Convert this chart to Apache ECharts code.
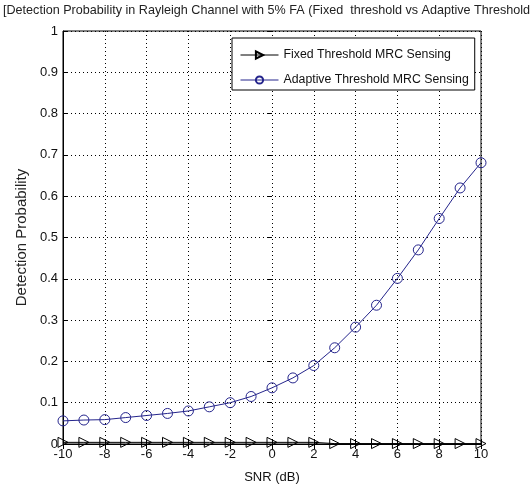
<!DOCTYPE html>
<html>
<head>
<meta charset="utf-8">
<script src="https://cdn.jsdelivr.net/npm/echarts@6/dist/echarts.min.js"></script>
<style>
  html, body { margin: 0; padding: 0; background: #fff; }
  #chart { width: 532px; height: 491px; }
</style>
</head>
<body>
<div id="chart"></div>
<script>
// SNR in dB, one point per dB
const snr = [-10, -9, -8, -7, -6, -5, -4, -3, -2, -1, 0, 1, 2, 3, 4, 5, 6, 7, 8, 9, 10]
// detection probability
const fixedPd = [0.004, 0.004, 0.004, 0.004, 0.004, 0.004, 0.004, 0.004, 0.004, 0.004, 0.004, 0.004, 0.004,
  0.001, 0.001, 0.001, 0.001, 0.001, 0.001, 0.001, 0.001]
const adaptivePd = [0.056, 0.058, 0.059, 0.064, 0.069, 0.074, 0.08, 0.09, 0.1, 0.115, 0.136, 0.16, 0.19,
  0.233, 0.283, 0.336, 0.401, 0.47, 0.546, 0.62, 0.681]
const seriesNames = ['Fixed Threshold MRC Sensing', 'Adaptive Threshold MRC Sensing']

const font = '"Liberation Sans", Arial, sans-serif'
const blue = '#24248c'

const chart = echarts.init(document.getElementById('chart'))
chart.setOption({
  backgroundColor: '#fff',
  animation: false,
  title: {
    text: '[Detection Probability in Rayleigh Channel with 5% FA (Fixed  threshold vs Adaptive Threshold',
    left: 1,
    top: 2,
    padding: [2, 2],
    textStyle: { fontFamily: font, fontSize: 12.6, fontWeight: 'normal', color: '#222' }
  },
  legend: {
    orient: 'vertical',
    left: 232,
    top: 38,
    padding: [11, 6, 4, 8],
    itemGap: 13,
    itemWidth: 38,
    itemHeight: 9,
    backgroundColor: '#fff',
    borderColor: '#000',
    borderWidth: 1,
    borderRadius: 0,
    lineStyle: { width: 1 },
    textStyle: { fontFamily: font, fontSize: 12.3, color: '#111' },
    data: seriesNames
  },
  grid: {
    left: 63,
    right: 51,
    top: 31,
    bottom: 47,
    show: true,
    borderColor: '#000',
    borderWidth: 1,
    backgroundColor: '#fff'
  },
  xAxis: [{
    type: 'value',
    min: -10,
    max: 10,
    interval: 2,
    name: 'SNR (dB)',
    nameLocation: 'middle',
    nameGap: 27,
    nameTextStyle: { fontFamily: font, fontSize: 13, color: '#111' },
    axisLine: { onZero: false, lineStyle: { color: '#000' } },
    axisTick: { inside: true, length: 5, lineStyle: { color: '#000' } },
    axisLabel: { fontFamily: font, fontSize: 13, color: '#111', margin: 4 },
    splitLine: { show: true, lineStyle: { color: '#000', type: [1, 3] } }
  }, {
    type: 'value',
    position: 'top',
    min: -10,
    max: 10,
    interval: 2,
    axisLine: { show: false },
    axisTick: { inside: true, length: 5, lineStyle: { color: '#000' } },
    axisLabel: { show: false },
    splitLine: { show: false }
  }],
  yAxis: [{
    type: 'value',
    min: 0,
    max: 1,
    interval: 0.1,
    name: 'Detection Probability',
    nameLocation: 'middle',
    nameGap: 32,
    nameTextStyle: { fontFamily: font, fontSize: 15, color: '#222' },
    axisLine: { show: true, onZero: false, lineStyle: { color: '#000' } },
    axisTick: { show: true, inside: true, length: 5, lineStyle: { color: '#000' } },
    axisLabel: { fontFamily: font, fontSize: 13, color: '#111', margin: 5 },
    splitLine: { show: true, lineStyle: { color: '#000', type: [1, 3] } }
  }, {
    type: 'value',
    position: 'right',
    min: 0,
    max: 1,
    interval: 0.1,
    axisLine: { show: false },
    axisTick: { show: true, inside: true, length: 5, lineStyle: { color: '#000' } },
    axisLabel: { show: false },
    splitLine: { show: false }
  }],
  series: [{
    name: seriesNames[0],
    type: 'line',
    data: snr.map((x, i) => [x, fixedPd[i]]),
    symbol: 'triangle',
    symbolRotate: -90,
    symbolSize: 10,
    lineStyle: { color: '#000', width: 1 },
    itemStyle: { color: 'rgba(255,255,255,0)', borderColor: '#000', borderWidth: 1 },
    z: 3
  }, {
    name: seriesNames[1],
    type: 'line',
    data: snr.map((x, i) => [x, adaptivePd[i]]),
    symbol: 'circle',
    symbolSize: 10,
    lineStyle: { color: blue, width: 1 },
    itemStyle: { color: 'rgba(255,255,255,0)', borderColor: blue, borderWidth: 1 },
    z: 3
  }]
})
</script>
</body>
</html>
